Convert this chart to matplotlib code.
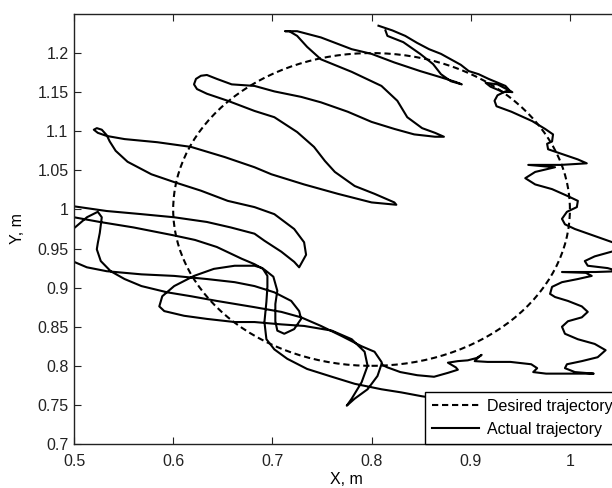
import matplotlib
matplotlib.use('Agg')
import matplotlib.pyplot as plt
from matplotlib.patches import Ellipse
from matplotlib.lines import Line2D
from matplotlib.ticker import FormatStrFormatter
import numpy as np

plt.rcParams['font.family'] = ['Liberation Sans', 'DejaVu Sans']
plt.rcParams['font.size'] = 11.5

# desired trajectory: circle
circle_center = (0.8, 1.0)
circle_radius = 0.2

# actual trajectory (in order along the path)
# start at the top, along the circle, right-hand zigzag down to the bottom tip
right_x = [0.807, 0.814, 0.821, 0.834, 0.846, 0.858, 0.870, 0.880, 0.890, 0.898, 0.908, 0.918, 0.935, 0.940,
           0.933, 0.920, 0.915, 0.927, 0.942, 0.935, 0.927, 0.924, 0.926, 0.941, 0.962, 0.975, 0.983, 0.982,
           0.977, 0.978, 0.992, 1.008, 1.017, 0.991, 0.958, 0.985, 0.965, 0.955, 0.965, 0.982, 0.998, 1.008,
           1.007, 0.997, 0.992, 0.995, 1.005, 1.025, 1.043, 1.054, 1.054, 1.042, 1.025, 1.015, 1.018, 1.038,
           1.049, 1.026, 0.992, 1.016, 1.022, 1.008, 0.992, 0.982, 0.980, 0.985, 0.998, 1.012, 1.018, 1.012,
           0.998, 0.992, 0.995, 1.008, 1.025, 1.036, 1.028, 1.012, 0.997, 0.995, 1.005, 1.024]
right_y = [1.235, 1.232, 1.229, 1.222, 1.213, 1.205, 1.199, 1.192, 1.185, 1.177, 1.173, 1.167, 1.158, 1.151,
           1.150, 1.157, 1.162, 1.160, 1.150, 1.151, 1.146, 1.139, 1.132, 1.125, 1.113, 1.103, 1.096, 1.087,
           1.084, 1.077, 1.071, 1.064, 1.059, 1.057, 1.057, 1.054, 1.048, 1.040, 1.032, 1.026, 1.017, 1.011,
           1.003, 0.997, 0.988, 0.981, 0.975, 0.966, 0.958, 0.953, 0.949, 0.946, 0.940, 0.934, 0.928, 0.925,
           0.921, 0.920, 0.920, 0.919, 0.915, 0.911, 0.907, 0.901, 0.892, 0.888, 0.883, 0.876, 0.869, 0.862,
           0.857, 0.850, 0.841, 0.834, 0.828, 0.820, 0.811, 0.806, 0.802, 0.797, 0.792, 0.790]

# wiggly stretch along the bottom, going left
bottom_x = [0.998, 0.976, 0.963, 0.967, 0.961, 0.940, 0.917, 0.904, 0.907, 0.911, 0.906, 0.897, 0.887, 0.877,
            0.885, 0.887, 0.877, 0.863, 0.846, 0.829, 0.816, 0.811]
bottom_y = [0.790, 0.790, 0.792, 0.797, 0.802, 0.805, 0.805, 0.806, 0.810, 0.814, 0.810, 0.807, 0.806, 0.804,
            0.798, 0.795, 0.791, 0.786, 0.788, 0.792, 0.798, 0.801]

# big sweeps on the left side
left_x = [0.810, 0.803, 0.790, 0.770, 0.749, 0.729, 0.709, 0.682, 0.644, 0.618, 0.594, 0.568, 0.551, 0.537,
          0.527, 0.523, 0.524, 0.526, 0.528, 0.524, 0.513, 0.501, 0.490, 0.485, 0.490, 0.500, 0.513, 0.533,
          0.568, 0.601, 0.634, 0.662, 0.682, 0.702, 0.719, 0.727, 0.729, 0.722, 0.712, 0.705, 0.703, 0.703,
          0.705, 0.701, 0.692, 0.682, 0.669, 0.644, 0.622, 0.600, 0.560, 0.526, 0.500, 0.488, 0.485, 0.490,
          0.500, 0.533, 0.568, 0.601, 0.634, 0.658, 0.682, 0.692, 0.709, 0.722, 0.727, 0.734, 0.732, 0.722,
          0.702, 0.682, 0.655, 0.628, 0.601, 0.578, 0.554, 0.542, 0.536, 0.533, 0.528, 0.523, 0.520, 0.524,
          0.533, 0.551, 0.584, 0.618, 0.652, 0.682, 0.699, 0.732, 0.766, 0.800, 0.825]
left_y = [0.805, 0.818, 0.825, 0.838, 0.851, 0.862, 0.869, 0.875, 0.883, 0.889, 0.894, 0.902, 0.911, 0.921,
          0.934, 0.949, 0.957, 0.970, 0.990, 0.997, 0.990, 0.977, 0.968, 0.950, 0.935, 0.933, 0.926, 0.921,
          0.917, 0.915, 0.911, 0.907, 0.902, 0.894, 0.883, 0.870, 0.860, 0.847, 0.841, 0.845, 0.857, 0.879,
          0.896, 0.914, 0.923, 0.930, 0.937, 0.952, 0.961, 0.967, 0.977, 0.984, 0.990, 0.992, 0.998, 1.004,
          1.004, 0.998, 0.994, 0.990, 0.984, 0.977, 0.969, 0.960, 0.946, 0.933, 0.926, 0.942, 0.958, 0.975,
          0.994, 1.003, 1.011, 1.024, 1.035, 1.045, 1.061, 1.075, 1.087, 1.095, 1.102, 1.104, 1.102, 1.098,
          1.094, 1.090, 1.086, 1.080, 1.067, 1.054, 1.045, 1.032, 1.020, 1.009, 1.006]

# upper lobes, ending back near the start
upper_x = [0.823, 0.803, 0.783, 0.763, 0.753, 0.742, 0.725, 0.702, 0.682, 0.655, 0.634, 0.624, 0.621, 0.623,
           0.628, 0.634, 0.644, 0.659, 0.682, 0.702, 0.729, 0.749, 0.776, 0.800, 0.823, 0.843, 0.864, 0.873,
           0.864, 0.851, 0.836, 0.826, 0.810, 0.780, 0.749, 0.735, 0.725, 0.717, 0.713, 0.725, 0.749, 0.780,
           0.800, 0.823, 0.849, 0.870, 0.885, 0.891, 0.880, 0.870, 0.862, 0.849, 0.832, 0.816, 0.814]
upper_y = [1.009, 1.020, 1.030, 1.048, 1.062, 1.080, 1.099, 1.118, 1.126, 1.139, 1.148, 1.154, 1.160, 1.167,
           1.171, 1.172, 1.167, 1.160, 1.158, 1.151, 1.144, 1.137, 1.125, 1.112, 1.103, 1.096, 1.093, 1.093,
           1.098, 1.104, 1.118, 1.139, 1.158, 1.176, 1.192, 1.208, 1.222, 1.228, 1.228, 1.228, 1.220, 1.205,
           1.199, 1.188, 1.177, 1.169, 1.163, 1.160, 1.164, 1.173, 1.186, 1.199, 1.214, 1.222, 1.229]

# boomerang and lower loop, running under the legend
loop_x = [0.810, 0.806, 0.796, 0.783, 0.775, 0.780, 0.790, 0.796, 0.793, 0.780, 0.760, 0.732, 0.709, 0.682,
          0.662, 0.634, 0.611, 0.591, 0.586, 0.589, 0.601, 0.621, 0.641, 0.662, 0.682, 0.690, 0.695, 0.695,
          0.694, 0.692, 0.694, 0.702, 0.715, 0.735, 0.760, 0.783, 0.810, 0.830, 0.851, 0.890, 0.930]
loop_y = [0.802, 0.787, 0.770, 0.758, 0.749, 0.758, 0.779, 0.800, 0.818, 0.834, 0.845, 0.851, 0.853, 0.856,
          0.856, 0.860, 0.864, 0.870, 0.876, 0.889, 0.902, 0.915, 0.924, 0.928, 0.928, 0.925, 0.915, 0.901,
          0.882, 0.856, 0.834, 0.821, 0.809, 0.796, 0.786, 0.777, 0.770, 0.766, 0.761, 0.754, 0.749]

actual_x = right_x + bottom_x + left_x + upper_x + [np.nan] + loop_x
actual_y = right_y + bottom_y + left_y + upper_y + [np.nan] + loop_y

fig = plt.figure(figsize=(6.12, 4.88), dpi=100)
ax = fig.add_axes([74/612, 44/488, 545.5/612, 430/488])

lw = 1.5
dash = (0, (3.0, 1.8))
ax.add_patch(Ellipse(circle_center, 2*circle_radius, 2*circle_radius, fill=False,
                     edgecolor='k', linewidth=lw, linestyle=dash))
actual_line, = ax.plot(actual_x, actual_y, color='k', linewidth=lw, solid_joinstyle='round')

ax.set_xlim(0.5, 1.05)
ax.set_ylim(0.7, 1.25)
ax.set_xticks([0.5, 0.6, 0.7, 0.8, 0.9, 1.0])
ax.set_yticks(np.arange(0.7, 1.21, 0.05))
ax.xaxis.set_major_formatter(FormatStrFormatter('%g'))
ax.yaxis.set_major_formatter(FormatStrFormatter('%g'))
ax.tick_params(direction='in', top=True, right=True, length=5, width=0.8, colors='#222222')
ax.tick_params(axis='x', pad=7)
ax.tick_params(axis='y', pad=4)
for s in ax.spines.values():
    s.set_linewidth(1.0)
    s.set_color('#222222')

ax.set_xlabel('X, m', labelpad=2)
ax.set_ylabel('Y, m', labelpad=9)

desired_handle = Line2D([], [], color='k', linewidth=lw, linestyle=dash)
leg = ax.legend([desired_handle, actual_line], ['Desired trajectory', 'Actual trajectory'],
                loc='lower right', borderaxespad=0, fancybox=False, framealpha=1,
                edgecolor='k', handlelength=2.9, handletextpad=0.5, labelspacing=0.5,
                borderpad=0.45)
leg.get_frame().set_linewidth(1.0)

fig.savefig('out.png', dpi=100)
